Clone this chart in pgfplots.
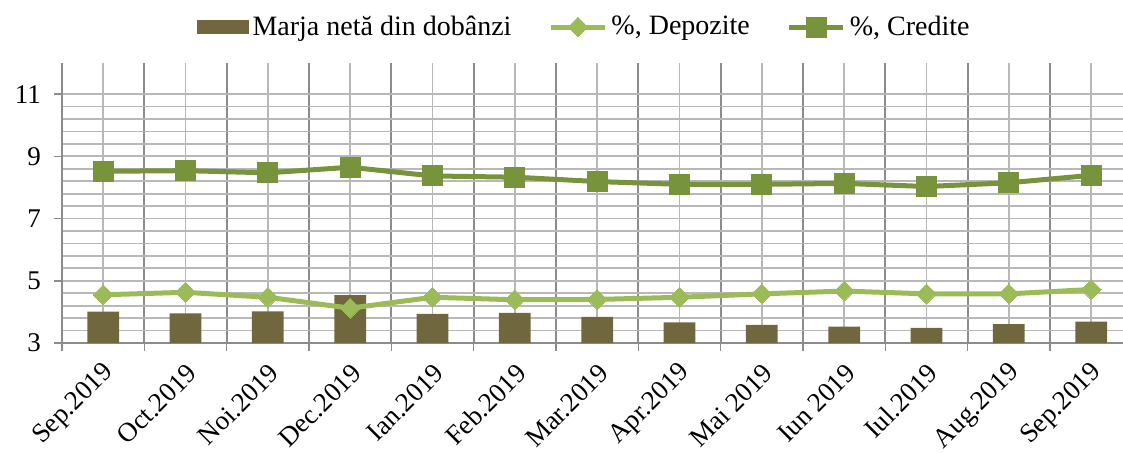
\documentclass[border=0pt]{standalone}
\usepackage{fontspec}
\setmainfont{Liberation Serif}
\usepackage{pgfplots}
\pgfplotsset{compat=1.18}
\definecolor{barc}{RGB}{112,103,63}
\definecolor{depc}{RGB}{155,187,89}
\definecolor{crec}{RGB}{119,147,60}
\definecolor{gridl}{RGB}{184,184,184}
\definecolor{gridd}{RGB}{140,140,140}
\pgfplotsset{
  lineleg/.style={legend image code/.code={\draw[##1, mark repeat=2, mark phase=2] plot coordinates {(0pt,0pt) (13.5pt,0pt) (27pt,0pt)};}},
  barleg/.style={legend image code/.code={\fill[barc] (0pt,-3.5pt) rectangle (26pt,3.5pt);}}
}
\begin{document}
\begin{tikzpicture}
\begin{axis}[
  at={(31pt,54.5pt)}, anchor=south west,
  scale only axis, width=530.5pt, height=140pt,
  xmin=-0.5, xmax=12.387, ymin=3, ymax=12,
  axis x line*=bottom, axis y line*=left,
  axis line style={gridd, line width=0.8pt},
  xtick={0,...,12},
  xticklabels={Sep.2019,Oct.2019,Noi.2019,Dec.2019,Ian.2019,Feb.2019,Mar.2019,Apr.2019,Mai 2019,Iun 2019,Iul.2019,Aug.2019,Sep.2019},
  minor xtick={-0.5,0.5,...,11.5},
  ytick={3,5,7,9,11},
  minor y tick num=4,
  xmajorgrids, xminorgrids, ymajorgrids, yminorgrids,
  major grid style={gridl, line width=0.9pt},
  minor grid style={gridl, line width=0.9pt},
  every major x grid/.style={gridl, line width=0.9pt},
  every minor x grid/.style={gridd, line width=0.9pt},
  tick align=outside,
  x tick style={gridd, line width=0.8pt},
  y tick style={gridd, line width=0.8pt},
  major x tick style={draw=none},
  minor tick length=4pt, major tick length=4pt,
  every minor y tick/.style={draw=none},
  tick label style={font=\fontsize{13.5}{15}\selectfont},
  /pgf/number format/assume math mode=true,
  yticklabel style={xshift=-3pt},
  xticklabel style={rotate=45, anchor=east, xshift=-0.5pt, yshift=-8.6pt},
  legend style={draw=none, fill=none, at={(0.493,1.1286)}, anchor=center,
    legend columns=3, font=\fontsize{14}{16}\selectfont,
    /tikz/every even column/.append style={column sep=16.5pt}},
  legend cell align=left,
]
\addplot[ybar, bar width=15.9pt, fill=barc, draw=none, barleg]
coordinates {(0,4.01) (1,3.95) (2,4.02) (3,4.54) (4,3.94) (5,3.97) (6,3.84) (7,3.66) (8,3.58) (9,3.53) (10,3.49) (11,3.61) (12,3.69)};
\addlegendentry{Marja netă din dobânzi}
\addplot[depc, line width=2.5pt, mark=square*, mark size=3.5pt, mark options={rotate=45, solid, line width=0pt}, lineleg]
coordinates {(0,4.55) (1,4.63) (2,4.47) (3,4.12) (4,4.47) (5,4.39) (6,4.40) (7,4.47) (8,4.58) (9,4.67) (10,4.58) (11,4.58) (12,4.72)};
\addlegendentry{\%, Depozite}
\addplot[crec, line width=2.5pt, mark=square*, mark size=5pt, mark options={solid, line width=0pt}, lineleg]
coordinates {(0,8.52) (1,8.54) (2,8.47) (3,8.65) (4,8.37) (5,8.33) (6,8.19) (7,8.10) (8,8.10) (9,8.13) (10,8.03) (11,8.15) (12,8.39)};
\addlegendentry{\%, Credite}
\end{axis}
\pgfresetboundingbox
\path (0,0) rectangle (561.5pt,226pt);
\end{tikzpicture}
\end{document}
